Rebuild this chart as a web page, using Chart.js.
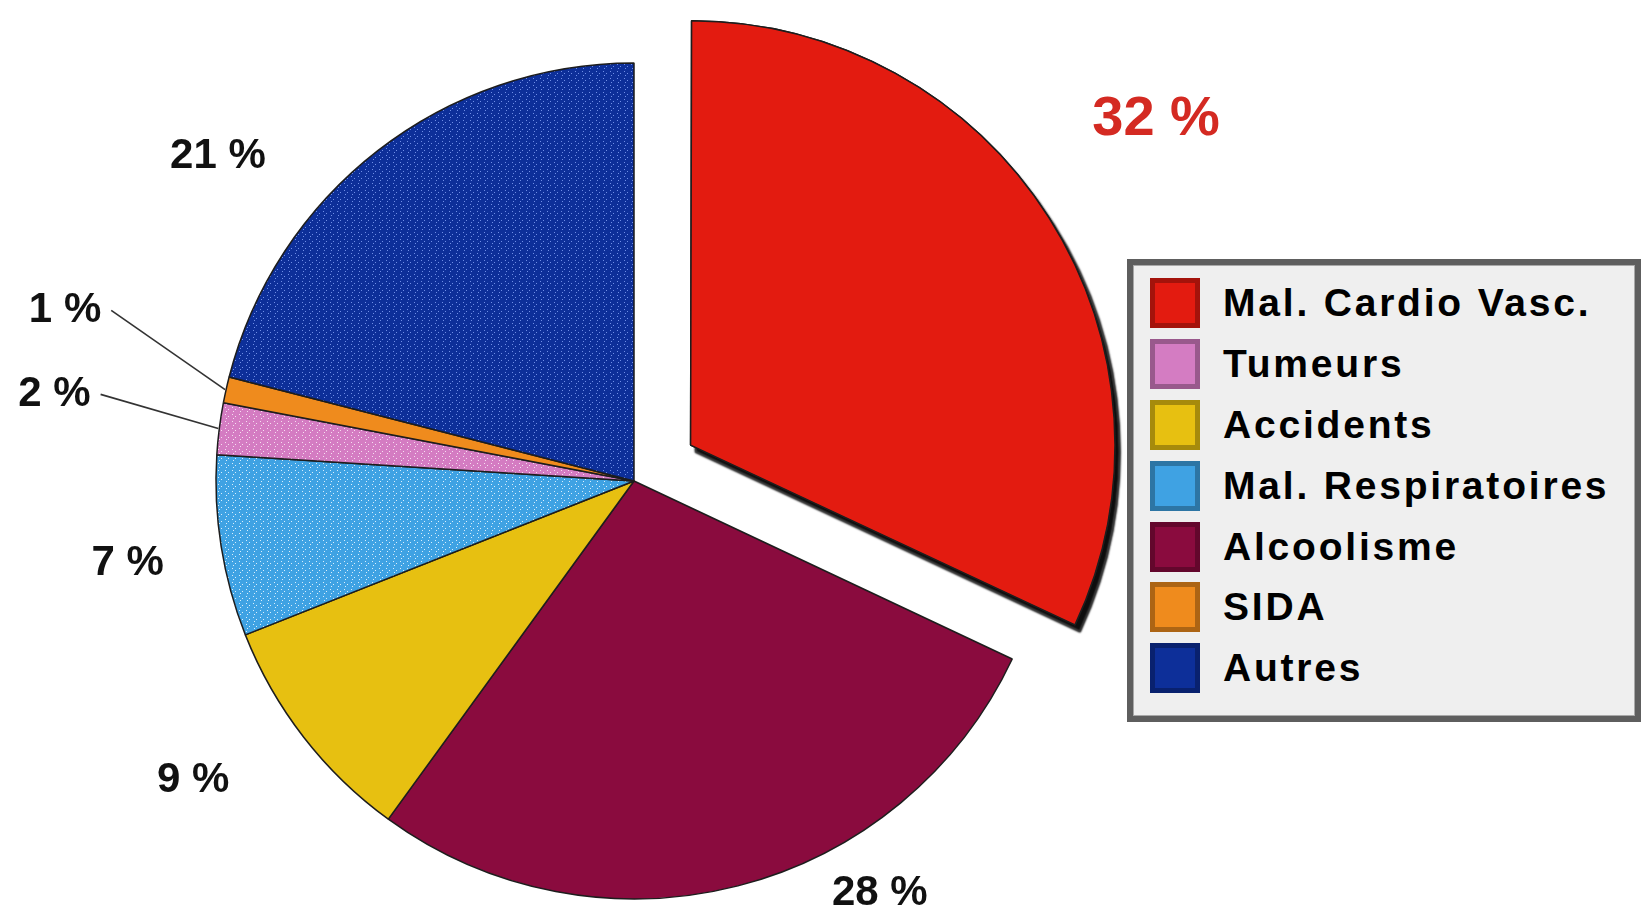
<!DOCTYPE html>
<html lang="fr">
<head>
<meta charset="utf-8">
<title>Causes de décès</title>
<script src="https://cdn.jsdelivr.net/npm/chart.js@4.4.1/dist/chart.umd.min.js"></script>
<style>
  * { margin: 0; padding: 0; box-sizing: border-box; }
  html, body { width: 1643px; height: 917px; overflow: hidden; background: #fff;
    font-family: "Liberation Sans", Arial, sans-serif; }
  #wrap { position: absolute; left: 0; top: 0; width: 1643px; height: 917px; }
  #legend { position: absolute; left: 1127px; top: 259px; width: 514px; height: 463px;
    background: #efefef; border: 6px solid #5e5e5e; box-shadow: inset 0 0 0 1px #a8a8a8;
    padding-top: 8px; }
  .row { height: 60.8px; display: flex; align-items: center; }
  .sw { width: 50px; height: 50px; margin-left: 17px; box-shadow: inset 0 0 0 5px rgba(0,0,0,0.28); }
  .txt { margin-left: 23px; font-weight: bold; font-size: 39px; letter-spacing: 2.8px;
    color: #000; white-space: nowrap; }
</style>
</head>
<body>
<div id="wrap"><canvas id="pie"></canvas></div>
<div id="legend"></div>
<script>
// slices, clockwise from 12 o'clock
const categories = ['Mal. Cardio Vasc.', 'Alcoolisme', 'Accidents', 'Mal. Respiratoires', 'Tumeurs', 'SIDA', 'Autres'];
const percents = [32, 28, 9, 7, 2, 1, 21];
const colors = ['#e31b10', '#8a0b3e', '#e7c011', '#3fa2e3', '#d47cc2', '#ef8b1d', '#0d2f99'];
// legend lists them in another order
const legendOrder = ['Mal. Cardio Vasc.', 'Tumeurs', 'Accidents', 'Mal. Respiratoires', 'Alcoolisme', 'SIDA', 'Autres'];

// where the % labels sit: shift from mid angle (deg) and distance from pie centre (px)
const labelAngleShift = [-2.3, -16.4, 3.6, -0.3, 1.3, 4.1, -14.2];
const labelDistance = [635, 480, 533, 513, 586, 594, 528];

// stippled fill like the original
function dotted(base, dot) {
  const c = document.createElement('canvas');
  c.width = 7; c.height = 7;
  const g = c.getContext('2d');
  g.fillStyle = base;
  g.fillRect(0, 0, 7, 7);
  if (dot) {
    g.fillStyle = dot;
    [[1, 1], [4, 3], [2, 5]].forEach(([x, y]) => g.fillRect(x, y, 1, 1));
  }
  return g.createPattern(c, 'repeat');
}
const dotColors = [null, null, null, '#d8eefc', '#f6def0', null, '#6f8ee6'];
const fills = colors.map((c, i) => dotted(c, dotColors[i]));

// red slice casts a dark shadow
const shadowPlugin = {
  id: 'redShadow',
  beforeDatasetsDraw(chart) {
    const arc = chart.getDatasetMeta(0).data[0];
    const ctx = chart.ctx;
    ctx.save();
    ctx.shadowColor = 'rgba(0,0,0,0.95)';
    ctx.shadowOffsetX = 5;
    ctx.shadowOffsetY = 7;
    ctx.shadowBlur = 2;
    arc.draw(ctx);
    ctx.restore();
  }
};

const labelPlugin = {
  id: 'pctLabels',
  afterDraw(chart) {
    const ctx = chart.ctx;
    const meta = chart.getDatasetMeta(0);
    ctx.save();
    ctx.textAlign = 'center';
    ctx.textBaseline = 'middle';
    meta.data.forEach((arc, i) => {
      const mid = (arc.startAngle + arc.endAngle) / 2;
      const a = mid + labelAngleShift[i] * Math.PI / 180;
      const x = arc.x + Math.cos(a) * labelDistance[i];
      const y = arc.y + Math.sin(a) * labelDistance[i];
      const txt = percents[i] + ' %';
      if (i === 0) {
        ctx.font = 'bold 56px "Liberation Sans", Arial, sans-serif';
        ctx.fillStyle = '#d42a22';
      } else {
        ctx.font = 'bold 42px "Liberation Sans", Arial, sans-serif';
        ctx.fillStyle = '#111';
      }
      ctx.fillText(txt, x, y);
      // leader line for the thin slices
      if (percents[i] <= 2) {
        const w = ctx.measureText(txt).width;
        const ex = arc.x + Math.cos(mid) * (arc.outerRadius + 1);
        const ey = arc.y + Math.sin(mid) * (arc.outerRadius + 1);
        ctx.beginPath();
        ctx.moveTo(x + w / 2 + 10, y);
        ctx.lineTo(ex, ey);
        ctx.strokeStyle = '#333';
        ctx.lineWidth = 1.6;
        ctx.stroke();
      }
    });
    ctx.restore();
  }
};

const chart = new Chart(document.getElementById('pie'), {
  type: 'pie',
  data: {
    labels: categories,
    datasets: [{
      data: percents,
      backgroundColor: fills,
      borderColor: '#1d1d1d',
      borderWidth: 1.5,
      // arc offset is divided by 4 when drawn, so this gives ~67px
      offset: [268, 0, 0, 0, 0, 0, 0]
    }]
  },
  options: {
    responsive: true,
    maintainAspectRatio: false,
    animation: false,
    events: [],
    radius: 418,
    layout: { padding: { left: 0, right: 375, top: 45, bottom: 0 } },
    plugins: {
      legend: { display: false },
      tooltip: { enabled: false }
    }
  },
  plugins: [shadowPlugin, labelPlugin]
});

// legend box
const legend = document.getElementById('legend');
legendOrder.forEach(name => {
  const i = categories.indexOf(name);
  const row = document.createElement('div');
  row.className = 'row';
  row.innerHTML = '<div class="sw" style="background:' + colors[i] + '"></div><div class="txt">' + name + '</div>';
  legend.appendChild(row);
});
</script>
</body>
</html>
